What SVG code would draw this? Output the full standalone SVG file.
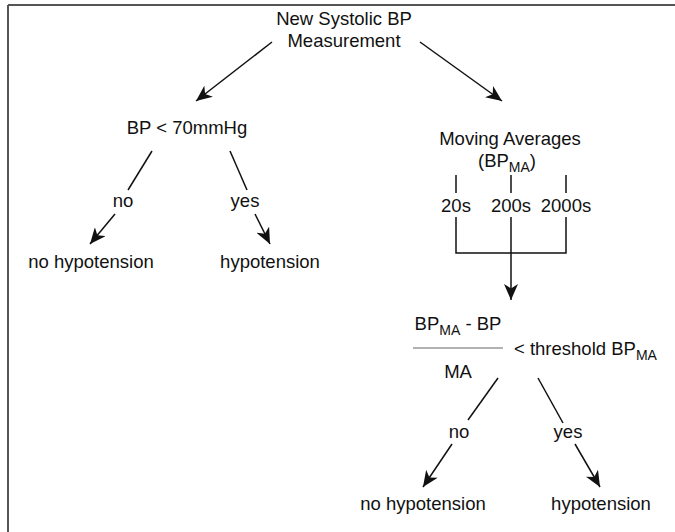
<svg xmlns="http://www.w3.org/2000/svg" width="675" height="532" viewBox="0 0 675 532">
<style>
text{font-family:"Liberation Sans",Arial,Helvetica,sans-serif;font-size:18.5px;fill:#111;text-anchor:middle}
.sub{font-size:14px}
.c{stroke:#111;stroke-width:1.5;fill:none}
</style>
<defs>
<marker id="ah" markerUnits="userSpaceOnUse" markerWidth="18" markerHeight="14" refX="16" refY="7" orient="auto">
<path d="M0,0 L16,7 L0,14 L4.5,7 z" fill="#111"/>
</marker>
</defs>
<rect width="675" height="532" fill="#fff"/>
<g id="frame" stroke="#555" stroke-width="2">
<line x1="8" y1="5" x2="675" y2="5"/>
<line x1="8" y1="5" x2="8" y2="532"/>
</g>
<g id="connectors">
<line class="c" x1="272" y1="42" x2="196" y2="101" marker-end="url(#ah)"/>
<line class="c" x1="420" y1="42" x2="502" y2="101" marker-end="url(#ah)"/>
<line class="c" x1="152" y1="151" x2="128" y2="190"/>
<line class="c" x1="115" y1="214" x2="90" y2="244" marker-end="url(#ah)"/>
<line class="c" x1="230" y1="151" x2="247" y2="190"/>
<line class="c" x1="255" y1="214" x2="270" y2="244" marker-end="url(#ah)"/>
<line class="c" x1="456" y1="175" x2="456" y2="193"/>
<line class="c" x1="511" y1="175" x2="511" y2="193"/>
<line class="c" x1="566" y1="175" x2="566" y2="193"/>
<polyline class="c" points="456,217 456,253 566,253 566,217"/>
<line class="c" x1="511" y1="217" x2="511" y2="300" marker-end="url(#ah)"/>
<line class="c" x1="498" y1="378" x2="468" y2="420"/>
<line class="c" x1="452" y1="444" x2="423" y2="487" marker-end="url(#ah)"/>
<line class="c" x1="538" y1="378" x2="563" y2="423"/>
<line class="c" x1="575" y1="444" x2="600" y2="487" marker-end="url(#ah)"/>
</g>
<g id="n-start"><text x="344" y="25">New Systolic BP</text><text x="344" y="47">Measurement</text></g>
<g id="n-bp70"><text x="187" y="134">BP &lt; 70mmHg</text></g>
<g id="l-no1"><text x="123" y="207">no</text></g>
<g id="l-yes1"><text x="245" y="207">yes</text></g>
<g id="n-nohypo1"><text x="91" y="268">no hypotension</text></g>
<g id="n-hypo1"><text x="270" y="268">hypotension</text></g>
<g id="n-ma"><text x="510" y="145">Moving Averages</text><text x="507" y="167">(BP<tspan class="sub" dy="5">MA</tspan><tspan dy="-5">)</tspan></text></g>
<g id="n-20"><text x="456" y="212">20s</text></g>
<g id="n-200"><text x="511" y="212">200s</text></g>
<g id="n-2000"><text x="566" y="212">2000s</text></g>
<g id="n-thresh">
<text x="458" y="330">BP<tspan class="sub" dy="5">MA</tspan><tspan dy="-5"> - BP</tspan></text>
<line x1="413" y1="348" x2="503" y2="348" stroke="#999" stroke-width="1.5"/>
<text x="458" y="378">MA</text>
<text x="514" y="355" style="text-anchor:start">&lt;  threshold BP<tspan class="sub" dy="5">MA</tspan></text>
</g>
<g id="l-no2"><text x="459" y="438">no</text></g>
<g id="l-yes2"><text x="568" y="438">yes</text></g>
<g id="n-nohypo2"><text x="423" y="510">no hypotension</text></g>
<g id="n-hypo2"><text x="601" y="510">hypotension</text></g>
</svg>
